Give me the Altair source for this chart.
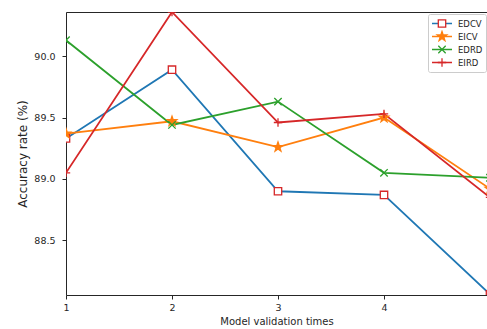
import math
import altair as alt
import pandas as pd

# ---- data ----
x_times = [1, 2, 3, 4, 5]
series_names = ["EDCV", "EICV", "EDRD", "EIRD"]
edcv = [89.33, 89.89, 88.90, 88.87, 88.06]
eicv = [89.37, 89.47, 89.26, 89.50, 88.92]
edrd = [90.13, 89.44, 89.63, 89.05, 89.01]
eird = [89.05, 90.36, 89.46, 89.53, 88.85]
x_ticks = [1, 2, 3, 4]
y_ticks = [88.5, 89.0, 89.5, 90.0]

# ---- styles ----
line_colors = ["#1f77b4", "#ff7f0e", "#2ca02c", "#d62728"]
marker_strokes = ["#d62728", "#ff7f0e", "#2ca02c", "#d62728"]
marker_fills = ["white", "#ff7f0e", "transparent", "transparent"]


def star_path(R, r):
    pts = []
    for i in range(10):
        ang = -math.pi / 2 + i * math.pi / 5
        rad = R if i % 2 == 0 else r
        pts.append((rad * math.cos(ang), rad * math.sin(ang)))
    return "M" + "L".join(f"{px:.3f},{py:.3f}" for px, py in pts) + "Z"


marker_shapes = [
    "M-0.37,-0.37H0.37V0.37H-0.37Z",
    star_path(0.5, 0.2),
    "M-0.37,-0.37L0.37,0.37M-0.37,0.37L0.37,-0.37",
    "M-0.42,0H0.42M0,-0.42V0.42",
]

rows = []
for name, vals in zip(series_names, [edcv, eicv, edrd, eird]):
    for xv, yv in zip(x_times, vals):
        rows.append({"x": xv, "acc": yv, "Series": name, "Method": name})
df = pd.DataFrame(rows)

FONT = "DejaVu Sans"
TXT = "#262626"

xscale = alt.Scale(domain=[1, 4.9717], nice=False, zero=False)
yscale = alt.Scale(domain=[88.055, 90.36], nice=False, zero=False)

yaxis = alt.Axis(
    values=y_ticks, format=".1f", title="Accuracy rate (%)",
    tickSize=4, labelPadding=7, labelFontSize=9.5, titleFontSize=12,
    titlePadding=4, labelFlush=False, grid=False, labelFont=FONT,
    titleFont=FONT, titleFontWeight="normal", labelColor=TXT,
    titleColor=TXT, domainColor=TXT, tickColor=TXT)

common_legend = dict(
    title=None, orient="none", legendX=362, legendY=2, symbolSize=400,
    clipHeight=13, rowPadding=0, padding=3, labelOffset=5, symbolOffset=0,
    labelFontSize=8.5, labelFont=FONT, labelColor=TXT,
)

lines = alt.Chart(df).mark_line(clip=True, strokeWidth=1.8).encode(
    x=alt.X("x:Q", scale=xscale, axis=alt.Axis(
        values=x_ticks, format="d", title="Model validation times",
        tickSize=4, labelPadding=3, labelFontSize=9.5, titleFontSize=10,
        titlePadding=5, labelFlush=False, grid=False, labelFont=FONT,
        titleFont=FONT, titleFontWeight="normal", labelColor=TXT,
        titleColor=TXT, domainColor=TXT, tickColor=TXT)),
    y=alt.Y("acc:Q", scale=yscale, axis=yaxis),
    color=alt.Color("Series:N", sort=series_names,
                    scale=alt.Scale(range=line_colors),
                    legend=alt.Legend(symbolType="stroke", symbolStrokeWidth=1.6,
                                      strokeColor="#cccccc", cornerRadius=2,
                                      **common_legend)),
    detail="Series:N",
)

marker_legend = alt.Legend(symbolStrokeWidth=1.3, labelOpacity=0, **common_legend)

points = alt.Chart(df).mark_point(clip=True, size=400, strokeWidth=1.3, opacity=1).encode(
    x=alt.X("x:Q", scale=xscale, axis=alt.Axis(
        orient="top", labels=False, ticks=False, title=None, grid=False,
        domainColor=TXT)),
    y=alt.Y("acc:Q", scale=yscale, axis=yaxis),
    shape=alt.Shape("Method:N",
                    scale=alt.Scale(domain=series_names, range=marker_shapes),
                    legend=marker_legend),
    stroke=alt.Stroke("Method:N",
                      scale=alt.Scale(domain=series_names, range=marker_strokes),
                      legend=marker_legend),
    fill=alt.Fill("Method:N",
                  scale=alt.Scale(domain=series_names, range=marker_fills),
                  legend=marker_legend),
)

chart = alt.layer(lines, points).resolve_axis(x="independent").properties(
    width=421, height=283,
    padding={"left": 66, "top": 12, "right": 0, "bottom": 34},
    autosize=alt.AutoSizeParams(type="none"),
).configure_view(stroke=None).configure(background="white")

chart.save("out.html", embed_options={"renderer": "svg", "actions": False})
